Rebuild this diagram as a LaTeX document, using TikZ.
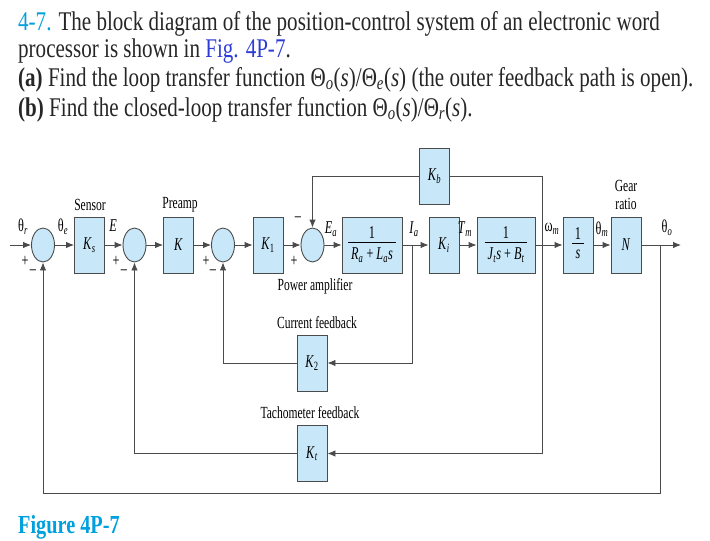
\documentclass[tikz,border=0pt]{standalone}
\usepackage{fontspec}
\setmainfont{Liberation Serif}
\newfontfamily\headfont[FakeStretch=0.78]{Liberation Serif}
\newfontfamily\blockfont[FakeStretch=0.68]{Liberation Serif}
\usetikzlibrary{arrows.meta, positioning, shapes.geometric, calc}

\definecolor{blockblue}{RGB}{200,232,250}
\definecolor{linegray}{RGB}{75,75,75}
\definecolor{headcyan}{RGB}{0,160,222}
\definecolor{linkblue}{RGB}{45,60,215}

\newcommand{\iv}[1]{\textit{#1}}
\newcommand{\is}[1]{\textsubscript{\itshape #1}}

\tikzset{
  blk/.style={draw=linegray, fill=blockblue, line width=0.9pt, minimum width=30pt,
    minimum height=56pt, inner sep=1pt, font=\blockfont\fontsize{18}{20}\selectfont},
  sumnode/.style={ellipse, draw=linegray, fill=blockblue, line width=0.9pt,
    minimum width=23pt, minimum height=34pt, inner sep=0pt},
  sig/.style={-{Latex[length=8pt,width=6.5pt]}, draw=linegray, line width=0.9pt},
  wire/.style={draw=linegray, line width=0.9pt},
  lbl/.style={font=\blockfont\fontsize{18}{20}\selectfont, inner sep=0pt},
  caption/.style={font=\blockfont\fontsize{17}{17}\selectfont, inner sep=0pt, align=center},
  head/.style={font=\headfont\fontsize{27}{29}\selectfont, inner sep=0pt, text=black!85},
}

\begin{document}
\begin{tikzpicture}[x=1pt, y=-1pt]
\useasboundingbox (0,0) rectangle (710,541);

% question text
\node[head, anchor=base west] (q1) at (18,30) {{\color{headcyan}4-7.} The block diagram of the position-control system of an electronic word};
\node[head, anchor=base west] (q2) at (18,57) {processor is shown in {\color{linkblue}Fig. 4P-7}.};
\node[head, anchor=base west] (q3) at (18,86) {\textbf{(a)} Find the loop transfer function Θ\is{o}(\iv{s})/Θ\is{e}(\iv{s}) (the outer feedback path is open).};
\node[head, anchor=base west] (q4) at (18,116) {\textbf{(b)} Find the closed-loop transfer function Θ\is{o}(\iv{s})/Θ\is{r}(\iv{s}).};

% forward path
\coordinate (inbeg) at (10,245);
\node[sumnode] (s1) at (43,245) {};
\node[blk] (ks) at (89.5,245) {\iv{K}\is{s}};
\node[sumnode] (s2) at (134.5,245) {};
\node[blk] (kp) at (178.5,245) {\iv{K}};
\node[sumnode] (s3) at (223,245) {};
\node[blk] (k1) at (268,245) {\iv{K}\textsubscript{1}};
\node[sumnode] (s4) at (312.5,245) {};
\node[blk, minimum width=60pt] (ra) at (372,245) {\begin{tabular}{@{\,}c@{\,}}1\\[-2pt]\hline\rule{0pt}{17pt}\iv{R}\is{a} + \iv{L}\is{a}\iv{s}\end{tabular}};
\coordinate (ia) at (412,245);
\node[blk] (ki) at (444,245) {\iv{K}\is{i}};
\node[blk, minimum width=58pt] (jt) at (506,245) {\begin{tabular}{@{\,}c@{\,}}1\\[-2pt]\hline\rule{0pt}{17pt}\iv{J}\is{t}\iv{s} + \iv{B}\is{t}\end{tabular}};
\coordinate (wm) at (542,245);
\node[blk] (integ) at (578,245) {\begin{tabular}{@{\,}c@{\,}}1\\[-2pt]\hline\rule{0pt}{15pt}\iv{s}\end{tabular}};
\node[blk] (gear) at (626,245) {\iv{N}};
\coordinate (tho) at (660,245);
\coordinate (outend) at (681,245);

% feedback blocks
\node[blk] (kb) at (434.5,176) {\iv{K}\is{b}};
\node[blk] (k2) at (312,363) {\iv{K}\textsubscript{2}};
\node[blk] (kt) at (312,453.5) {\iv{K}\is{t}};
\coordinate (fbcorner) at (43,493);

% captions
\node[caption] (capsensor) at (90,205) {Sensor};
\node[caption] (cappre) at (180,205) {Preamp};
\node[caption] (capgear) at (626,195) {Gear\\[1pt]ratio};
\node[caption] (cappow) at (315,286) {Power amplifier};
\node[caption] (capcur) at (317,323) {Current feedback};
\node[caption] (captach) at (310,413) {Tachometer feedback};

% signal labels
\node[lbl] (lthr) at (23,227) {θ\is{r}};
\node[lbl] (lthe) at (63,227) {θ\is{e}};
\node[lbl] (le) at (113,226) {\iv{E}};
\node[lbl] (lea) at (331,229) {\iv{E}\is{a}};
\node[lbl] (lia) at (414,229) {\iv{I}\is{a}};
\node[lbl] (ltm) at (465,229) {\iv{T}\is{m}};
\node[lbl] (lwm) at (552,229) {ω\is{m}};
\node[lbl] (lthm) at (602,229) {θ\is{m}};
\node[lbl] (ltho) at (667,228) {θ\is{o}};

% signs
\foreach \px/\nm in {25/a,116/b,206/c,294/d} {
  \node[lbl] (plus\nm) at (\px,261) {+};
}
\foreach \px/\nm in {33/a,124/b,213/c} {
  \node[lbl] (minus\nm) at (\px,272) {–};
}
\node[lbl] (minusd) at (298,219) {–};

% forward connections
\draw[sig] (inbeg) -- (s1);
\draw[sig] (s1) -- (ks);
\draw[sig] (ks) -- (s2);
\draw[sig] (s2) -- (kp);
\draw[sig] (kp) -- (s3);
\draw[sig] (s3) -- (k1);
\draw[sig] (k1) -- (s4);
\draw[sig] (s4) -- (ra);
\draw[wire] (ra) -- (ia);
\draw[sig] (ia) -- (ki);
\draw[sig] (ki) -- (jt);
\draw[wire] (jt) -- (wm);
\draw[sig] (wm) -- (integ);
\draw[sig] (integ) -- (gear);
\draw[sig] (gear) -- (outend);

% feedback connections
\draw[wire] (wm) |- (kb);
\draw[sig] (kb) -| (s4);
\draw[sig] (ia) |- (k2);
\draw[sig] (k2) -| (s3);
\draw[sig] (wm) |- (kt);
\draw[sig] (kt) -| (s2);
\draw[sig] (tho) |- (fbcorner) -- (s1);

\node[font=\headfont\bfseries\fontsize{26}{28}\selectfont, text=headcyan, anchor=base west, inner sep=0pt] (figlbl) at (18,533) {Figure 4P-7};
\end{tikzpicture}
\end{document}
